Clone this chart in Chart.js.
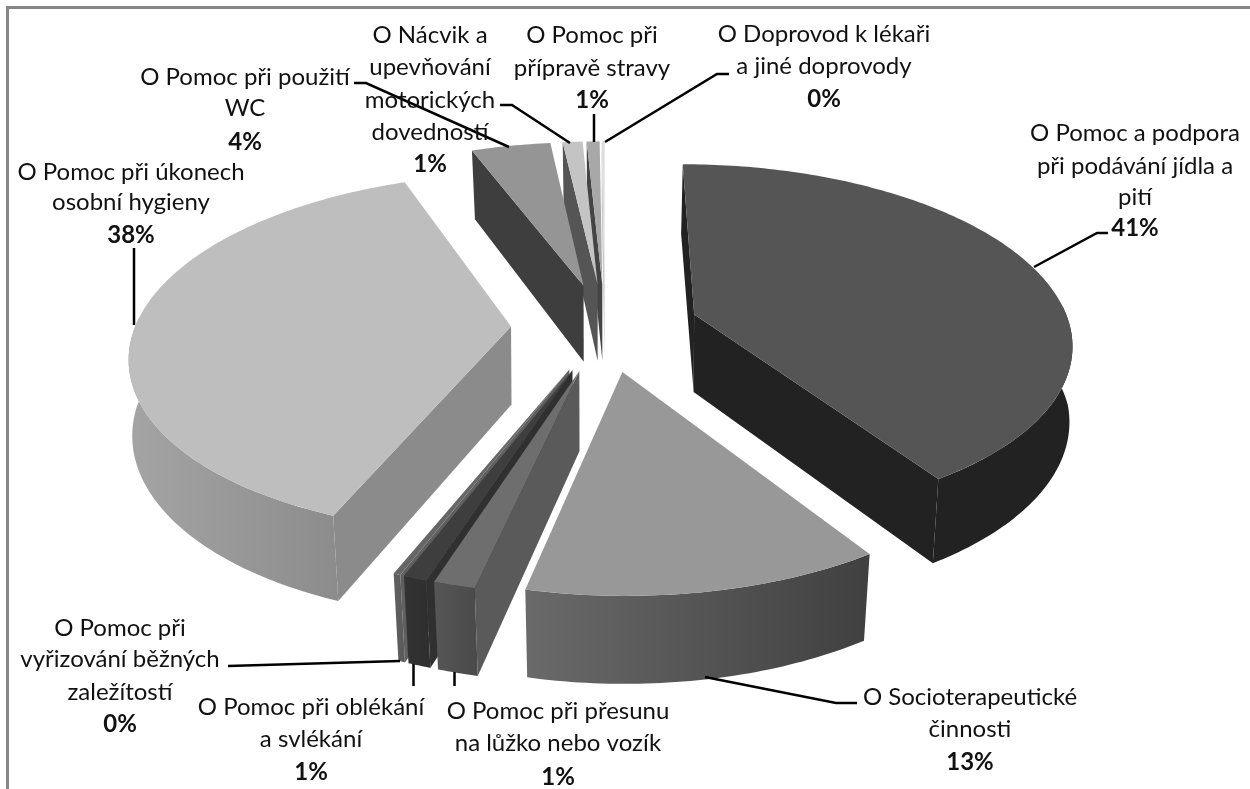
<!DOCTYPE html>
<html lang="cs">
<head>
<meta charset="utf-8">
<title>Graf</title>
<script src="https://cdn.jsdelivr.net/npm/chart.js@4"></script>
<style>
  html, body { margin: 0; padding: 0; background: #fff; }
  canvas { display: block; }
</style>
</head>
<body>
<canvas id="myChart" width="1250" height="789"></canvas>
<script>
// popisky rozdelene na radky
const categories = [
    ["O Pomoc a podpora", "při podávání jídla a", "pití"],
    ["O Socioterapeutické", "činnosti"],
    ["O Pomoc při přesunu", "na lůžko nebo vozík"],
    ["O Pomoc při oblékání", "a svlékání"],
    ["O Pomoc při", "vyřizování běžných", "zaležítostí"],
    ["O Pomoc při úkonech", "osobní hygieny"],
    ["O Pomoc při použití", "WC"],
    ["O Nácvik a", "upevňování", "motorických", "dovedností"],
    ["O Pomoc při", "přípravě stravy"],
    ["O Doprovod k lékaři", "a jiné doprovody"]
];
const shares = [40.8, 12.7, 1.49, 0.85, 0.26, 38.1, 4.0, 1.0, 0.65, 0.15];

// barvy: horni plocha, rez, plast (svetla a tmava strana)
const topColors = ["#555555", "#989898", "#6e6e6e", "#3e3e3e", "#666666", "#bebebe", "#959595", "#c4c4c4", "#a8a8a8", "#dddddd"];
const cutColors = ["#222222", "#444444", "#5a5a5a", "#303030", "#5f5f5f", "#8b8b8b", "#3e3e3e", "#555555", "#444444", "#c8c8c8"];
const sideLight = ["#222222", "#6a6a6a", "#565656", "#333333", "#606060", "#a4a4a4", "#3e3e3e", "#555555", "#444444", "#c8c8c8"];
const sideDark  = ["#222222", "#404040", "#4a4a4a", "#2e2e2e", "#5a5a5a", "#8c8c8c", "#3e3e3e", "#555555", "#444444", "#c8c8c8"];

// umisteni popisku: stred x, y radku, y procent, vodici cara
const labelX = [1135, 970, 558, 311, 120, 131, 245, 430, 592, 824];
const labelY = [
    [133, 166, 197, 228],
    [697, 729, 762],
    [711, 743, 777],
    [707, 739, 772],
    [628, 659, 692, 724],
    [172, 202, 235],
    [77, 108, 142],
    [35, 67, 100, 132, 164],
    [35, 68, 100],
    [34, 66, 99]
];
const leaders = [
    [[1108, 233], [1097, 233], [1034, 267]],
    [[857, 703], [836, 703], [705, 677]],
    [[454.5, 686], [454.5, 672]],
    [[413.5, 686], [413.5, 664]],
    [[228, 666], [400, 661]],
    [[134, 248], [134, 325]],
    [[354, 83], [366, 83], [509, 147]],
    [[500, 105], [512, 105], [570, 143]],
    [[594, 114], [594, 142]],
    [[729, 74], [717, 74], [605, 142]]
];

// perspektiva roviny kolace
const radiusX = 376, radiusY = 176, tilt = 0.148;

function project(arc, u, v, low) {
    const w = 1 / (1 - tilt * v);
    let x = arc.x + radiusX * u * w;
    let y = arc.y + radiusY * v * w;
    if (low) {
        x = arc.x + (x - arc.x) * (0.995 - 0.015 * Math.abs(v));
        y += 78 + 8 * v;
    }
    return [x, y];
}

function fillPoly(ctx, pts, fill) {
    ctx.beginPath();
    pts.forEach((p, i) => i ? ctx.lineTo(p[0], p[1]) : ctx.moveTo(p[0], p[1]));
    ctx.closePath();
    ctx.fillStyle = fill;
    ctx.fill();
}

function polyArea(pts) {
    let s = 0;
    pts.forEach((p, i) => {
        const q = pts[(i + 1) % pts.length];
        s += p[0] * q[1] - q[0] * p[1];
    });
    return s;
}

function drawSlice(ctx, arc, i) {
    const mid = (arc.startAngle + arc.endAngle) / 2;
    const e = arc.options.offset / 100;
    const cu = Math.cos(mid) * e, cv = Math.sin(mid) * e;
    const rim = a => [cu + Math.cos(a), cv + Math.sin(a)];
    const pt = (a, low) => {
        const r = rim(a);
        return project(arc, r[0], r[1], low);
    };
    const v0 = project(arc, cu, cv, false), v1 = project(arc, cu, cv, true);

    // rezy
    const startCut = [v0, pt(arc.startAngle, false), pt(arc.startAngle, true), v1];
    const endCut = [v0, pt(arc.endAngle, false), pt(arc.endAngle, true), v1];
    if (polyArea(startCut) < 0) fillPoly(ctx, startCut, cutColors[i]);
    if (polyArea(endCut) > 0) fillPoly(ctx, endCut, cutColors[i]);

    // plast, jen predni cast
    const from = Math.max(arc.startAngle, -0.05), to = Math.min(arc.endAngle, Math.PI + 0.05);
    if (to > from) {
        const n = Math.max(8, Math.ceil((to - from) * 60));
        const up = [], down = [];
        for (let k = 0; k <= n; k++) {
            const a = from + (to - from) * k / n;
            up.push(pt(a, false));
            down.unshift(pt(a, true));
        }
        const xs = up.concat(down).map(p => p[0]);
        const minX = Math.min(...xs), maxX = Math.max(...xs);
        const grad = ctx.createLinearGradient(minX, 0, maxX, 0);
        grad.addColorStop(0, sideLight[i]);
        grad.addColorStop(1, sideDark[i]);
        fillPoly(ctx, up.concat(down), grad);
    }

    // horni plocha
    const face = [v0];
    const n = Math.max(4, Math.ceil((arc.endAngle - arc.startAngle) * 60));
    for (let k = 0; k <= n; k++) {
        face.push(pt(arc.startAngle + (arc.endAngle - arc.startAngle) * k / n, false));
    }
    fillPoly(ctx, face, arc.options.backgroundColor);
}

const pie3d = {
    id: 'pie3d',
    beforeDatasetsDraw(chart) {
        const ctx = chart.ctx;
        const arcs = chart.getDatasetMeta(0).data;

        // ramecek
        ctx.save();
        ctx.strokeStyle = "#868686";
        ctx.lineWidth = 3;
        ctx.beginPath();
        ctx.moveTo(7.5, 789);
        ctx.lineTo(7.5, 7.5);
        ctx.lineTo(1250, 7.5);
        ctx.stroke();

        // od zadu dopredu
        const order = arcs.map((a, i) => i).sort((p, q) => {
            const mp = (arcs[p].startAngle + arcs[p].endAngle) / 2;
            const mq = (arcs[q].startAngle + arcs[q].endAngle) / 2;
            return Math.sin(mp) - Math.sin(mq);
        });
        order.forEach(i => drawSlice(ctx, arcs[i], i));

        // vodici cary
        ctx.strokeStyle = "#000";
        ctx.lineWidth = 2.5;
        leaders.forEach(line => {
            ctx.beginPath();
            line.forEach((p, k) => k ? ctx.lineTo(p[0], p[1]) : ctx.moveTo(p[0], p[1]));
            ctx.stroke();
        });

        // popisky
        ctx.fillStyle = "#111";
        ctx.textAlign = "center";
        ctx.textBaseline = "middle";
        categories.forEach((lines, i) => {
            ctx.font = "24px Lato";
            lines.forEach((t, k) => ctx.fillText(t, labelX[i], labelY[i][k]));
            ctx.font = "bold 24px Lato";
            ctx.fillText(Math.round(shares[i]) + "%", labelX[i], labelY[i][lines.length]);
        });
        ctx.restore();
        return false;
    }
};

const ctx = document.getElementById('myChart').getContext('2d');
const myChart = new Chart(ctx, {
    type: 'pie',
    data: {
        labels: categories.map(c => c.join(" ")),
        datasets: [{
            data: shares,
            backgroundColor: topColors,
            borderWidth: 0,
            offset: 25
        }]
    },
    options: {
        responsive: false,
        animation: false,
        layout: { padding: { left: 0, right: 40, top: 0, bottom: 135 } },
        plugins: {
            legend: { display: false },
            tooltip: { enabled: false }
        }
    },
    plugins: [pie3d]
});
</script>
</body>
</html>
